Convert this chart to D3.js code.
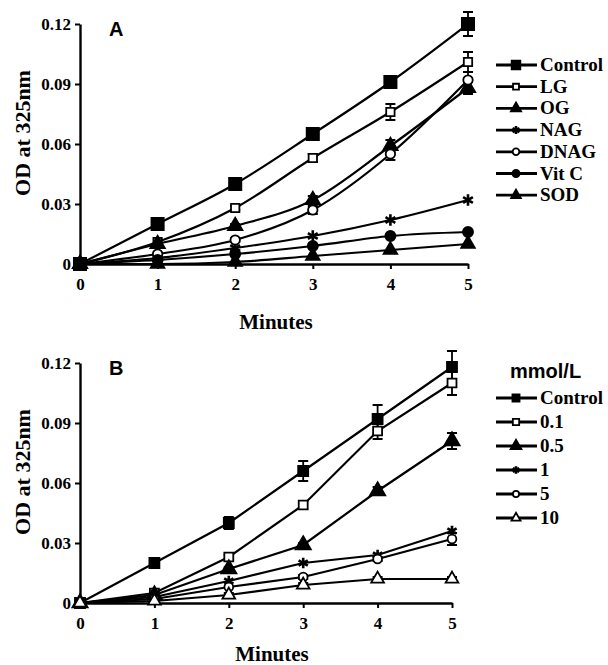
<!DOCTYPE html>
<html>
<head>
<meta charset="utf-8">
<script src="https://cdn.jsdelivr.net/npm/d3@7"></script>
<style>
  body { margin: 0; background: #fff; }
  svg { display: block; }
</style>
</head>
<body>
<div id="chart"></div>
<script>
// minutes on the x axis
var minutes = [0, 1, 2, 3, 4, 5];
var yTicks = [0, 0.03, 0.06, 0.09, 0.12];

// panel A series
var namesA = ["Control", "LG", "OG", "NAG", "DNAG", "Vit C", "SOD"];
var controlA = [0, 0.020, 0.040, 0.065, 0.091, 0.120];
var controlAErr = [0, 0.001, 0.001, 0.002, 0.003, 0.006];
var lgA = [0, 0.011, 0.028, 0.053, 0.076, 0.101];
var lgAErr = [0, 0, 0.001, 0.002, 0.004, 0.005];
var ogA = [0, 0.010, 0.019, 0.032, 0.059, 0.088];
var ogAErr = [0, 0, 0.001, 0.002, 0.003, 0.003];
var nagA = [0, 0.003, 0.008, 0.014, 0.022, 0.032];
var dnagA = [0, 0.005, 0.012, 0.027, 0.055, 0.092];
var dnagAErr = [0, 0, 0.001, 0.002, 0.003, 0.004];
var vitcA = [0, 0.002, 0.005, 0.009, 0.014, 0.016];
var sodA = [0, 0.000, 0.001, 0.004, 0.007, 0.010];

// panel B series (mmol/L)
var namesB = ["Control", "0.1", "0.5", "1", "5", "10"];
var controlB = [0, 0.020, 0.040, 0.066, 0.092, 0.118];
var controlBErr = [0, 0.001, 0.003, 0.005, 0.007, 0.008];
var b01 = [0, 0.005, 0.023, 0.049, 0.086, 0.110];
var b01Err = [0, 0.001, 0.001, 0.002, 0.004, 0.006];
var b05 = [0, 0.004, 0.017, 0.029, 0.056, 0.081];
var b05Err = [0, 0, 0.001, 0.001, 0.002, 0.004];
var b1 = [0, 0.003, 0.011, 0.020, 0.024, 0.036];
var b5 = [0, 0.002, 0.008, 0.013, 0.022, 0.032];
var b5Err = [0, 0, 0, 0.001, 0.001, 0.003];
var b10 = [0, 0.001, 0.004, 0.009, 0.012, 0.012];
var b10Err = [0, 0, 0.001, 0.001, 0.001, 0.001];

var serif = "'Liberation Serif', 'Times New Roman', serif";
var sans = "'Liberation Sans', Arial, sans-serif";

var svg = d3.select("#chart").append("svg")
  .attr("width", 608)
  .attr("height", 665);

// marker shapes: [symbol, filled, size]
var markerA = [
  [d3.symbolSquare, true, 150],
  [d3.symbolSquare, false, 70],
  [d3.symbolTriangle, true, 90],
  [d3.symbolAsterisk, false, 90],
  [d3.symbolCircle, false, 70],
  [d3.symbolCircle, true, 80],
  [d3.symbolTriangle, true, 80]
];
var markerB = [
  [d3.symbolSquare, true, 100],
  [d3.symbolSquare, false, 80],
  [d3.symbolTriangle, true, 100],
  [d3.symbolAsterisk, false, 80],
  [d3.symbolCircle, false, 60],
  [d3.symbolTriangle, false, 70]
];

function drawMarker(g, m, cx, cy, scale) {
  var isStar = m[0] === d3.symbolAsterisk;
  g.append("path")
    .attr("d", d3.symbol().type(m[0]).size(m[2] * (scale || 1))())
    .attr("transform", "translate(" + cx + "," + cy + ")")
    .attr("fill", isStar ? "none" : (m[1] ? "#000" : "#fff"))
    .attr("stroke", "#000")
    .attr("stroke-width", isStar ? 2.6 : 1.8);
}

function drawPanel(p) {
  var x = d3.scaleLinear().domain([0, 5]).range([80, p.xEnd]);
  var y = d3.scaleLinear().domain([0, 0.12]).range([p.yBottom, p.yBottom - 240]);
  var g = svg.append("g");

  var yAxis = g.append("g")
    .attr("transform", "translate(80,0)")
    .call(d3.axisLeft(y).tickValues(yTicks).tickSize(5).tickSizeOuter(0)
      .tickFormat(function(d) { return d === 0 ? "0" : d3.format(".2f")(d); }));
  var xAxis = g.append("g")
    .attr("transform", "translate(0," + p.yBottom + ")")
    .call(d3.axisBottom(x).tickValues(minutes).tickSize(5).tickSizeOuter(0)
      .tickFormat(d3.format("d")));

  [yAxis, xAxis].forEach(function(a) {
    a.select(".domain").attr("stroke-width", 2.4);
    a.selectAll(".tick line").attr("stroke-width", 2);
    a.selectAll(".tick text")
      .style("font-family", serif)
      .style("font-weight", "bold")
      .style("font-size", "17px");
  });
  yAxis.selectAll(".tick text").attr("x", -9);
  xAxis.selectAll(".tick text").attr("y", 14);

  g.append("text")
    .attr("transform", "translate(30," + (p.yBottom - 131) + ") rotate(-90)")
    .attr("text-anchor", "middle")
    .style("font-family", serif)
    .style("font-weight", "bold")
    .style("font-size", "22px")
    .text("OD at 325nm");

  g.append("text")
    .attr("x", p.minutesX)
    .attr("y", p.minutesY)
    .attr("text-anchor", "middle")
    .style("font-family", serif)
    .style("font-weight", "bold")
    .style("font-size", "21px")
    .text("Minutes");

  g.append("text")
    .attr("x", 109)
    .attr("y", p.yBottom - 228)
    .style("font-family", sans)
    .style("font-weight", "bold")
    .style("font-size", "20px")
    .text(p.letter);

  var line = d3.line()
    .x(function(d, i) { return x(minutes[i]); })
    .y(function(d) { return y(d); })
    .curve(p.curve);

  p.series.forEach(function(s, k) {
    g.append("path")
      .attr("d", line(s))
      .attr("fill", "none")
      .attr("stroke", "#000")
      .attr("stroke-width", 2.2);
    var err = p.errs[k];
    s.forEach(function(v, i) {
      if (err && err[i] > 0) {
        var cx = x(minutes[i]);
        g.append("path")
          .attr("d", "M" + cx + "," + y(v - err[i]) + "V" + y(v + err[i]) +
            "M" + (cx - 5) + "," + y(v - err[i]) + "h10" +
            "M" + (cx - 5) + "," + y(v + err[i]) + "h10")
          .attr("fill", "none")
          .attr("stroke", "#000")
          .attr("stroke-width", 1.8);
      }
    });
  });
  p.series.forEach(function(s, k) {
    s.forEach(function(v, i) {
      drawMarker(g, p.markers[k], x(minutes[i]), y(v));
    });
  });

  // legend
  var lg = g.append("g");
  if (p.legendTitle) {
    lg.append("text")
      .attr("x", 510)
      .attr("y", p.legendTop - 20)
      .style("font-family", sans)
      .style("font-weight", "bold")
      .style("font-size", "20px")
      .text(p.legendTitle);
  }
  p.names.forEach(function(n, k) {
    var ly = p.legendTop + k * p.legendStep;
    lg.append("line")
      .attr("x1", 496).attr("x2", 537)
      .attr("y1", ly).attr("y2", ly)
      .attr("stroke", "#000")
      .attr("stroke-width", 2.8);
    drawMarker(lg, p.markers[k], 516, ly, 0.5);
    lg.append("text")
      .attr("x", 540)
      .attr("y", ly + 6)
      .style("font-family", serif)
      .style("font-weight", "bold")
      .style("font-size", "19px")
      .text(n);
  });
}

drawPanel({
  letter: "A",
  yBottom: 264,
  xEnd: 468,
  minutesX: 276,
  minutesY: 329,
  curve: d3.curveMonotoneX,
  series: [controlA, lgA, ogA, nagA, dnagA, vitcA, sodA],
  errs: [controlAErr, lgAErr, ogAErr, null, dnagAErr, null, null],
  markers: markerA,
  names: namesA,
  legendTop: 65,
  legendStep: 21.7
});

drawPanel({
  letter: "B",
  yBottom: 603,
  xEnd: 452,
  minutesX: 272,
  minutesY: 661,
  curve: d3.curveLinear,
  series: [controlB, b01, b05, b1, b5, b10],
  errs: [controlBErr, b01Err, b05Err, null, b5Err, b10Err],
  markers: markerB,
  names: namesB,
  legendTitle: "mmol/L",
  legendTop: 398,
  legendStep: 24
});
</script>
</body>
</html>
